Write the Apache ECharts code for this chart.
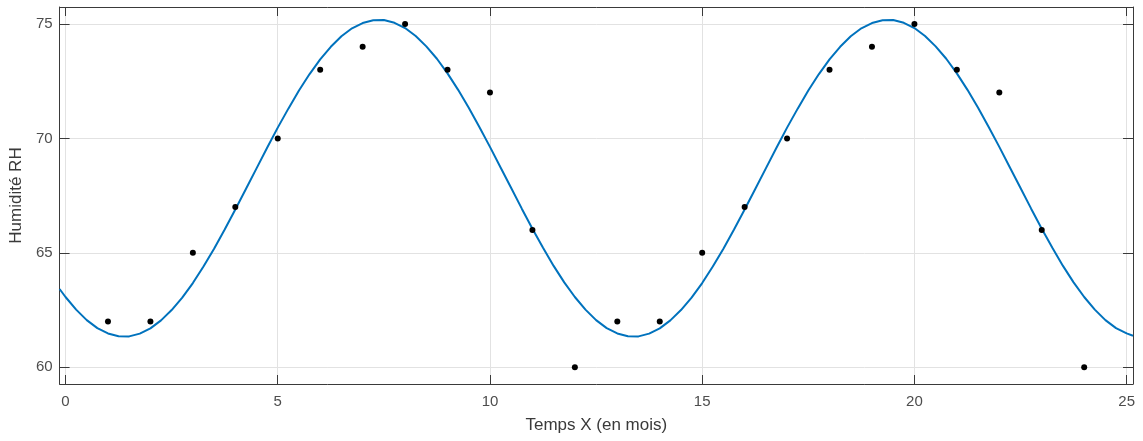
<!DOCTYPE html>
<html>
<head>
<meta charset="utf-8">
<script src="https://cdn.jsdelivr.net/npm/echarts@6/dist/echarts.min.js"></script>
<style>
  html, body { margin: 0; padding: 0; background: #fff; }
  #main { width: 1143px; height: 441px; }
</style>
</head>
<body>
<div id="main"></div>
<script>
// mesures (mois 1..24)
let mois = [1, 2, 3, 4, 5, 6, 7, 8, 9, 10, 11, 12, 13, 14, 15, 16, 17, 18, 19, 20, 21, 22, 23, 24];
let humidite = [62, 62, 65, 67, 70, 73, 74, 75, 73, 72, 66, 60, 62, 62, 65, 67, 70, 73, 74, 75, 73, 72, 66, 60];

let courbeX = [-0.14,
  0, 0.25, 0.5, 0.75, 1, 1.25, 1.5, 1.75, 2, 2.25, 2.5, 2.75, 3, 3.25, 3.5, 3.75,
  4, 4.25, 4.5, 4.75, 5, 5.25, 5.5, 5.75, 6, 6.25, 6.5, 6.75, 7, 7.25, 7.5, 7.75,
  8, 8.25, 8.5, 8.75, 9, 9.25, 9.5, 9.75, 10, 10.25, 10.5, 10.75, 11, 11.25, 11.5, 11.75,
  12, 12.25, 12.5, 12.75, 13, 13.25, 13.5, 13.75, 14, 14.25, 14.5, 14.75, 15, 15.25, 15.5, 15.75,
  16, 16.25, 16.5, 16.75, 17, 17.25, 17.5, 17.75, 18, 18.25, 18.5, 18.75, 19, 19.25, 19.5, 19.75,
  20, 20.25, 20.5, 20.75, 21, 21.25, 21.5, 21.75, 22, 22.25, 22.5, 22.75, 23, 23.25, 23.5, 23.75,
  24, 24.25, 24.5, 24.75, 25, 25.15];
let courbeY = [63.42,
  63.07, 62.52, 62.06, 61.71, 61.48, 61.36, 61.35, 61.47, 61.70, 62.05, 62.50, 63.04, 63.68, 64.40, 65.18, 66.02,
  66.89, 67.79, 68.69, 69.59, 70.47, 71.30, 72.09, 72.81, 73.45, 74.00, 74.46, 74.81, 75.04, 75.16, 75.17, 75.05,
  74.82, 74.47, 74.02, 73.48, 72.84, 72.12, 71.34, 70.50, 69.63, 68.73, 67.83, 66.93, 66.05, 65.22, 64.43, 63.71,
  63.07, 62.52, 62.06, 61.71, 61.48, 61.36, 61.35, 61.47, 61.70, 62.05, 62.50, 63.04, 63.68, 64.40, 65.18, 66.02,
  66.89, 67.79, 68.69, 69.59, 70.47, 71.30, 72.09, 72.81, 73.45, 74.00, 74.46, 74.81, 75.04, 75.16, 75.17, 75.05,
  74.82, 74.47, 74.02, 73.48, 72.84, 72.12, 71.34, 70.50, 69.63, 68.73, 67.83, 66.93, 66.05, 65.22, 64.43, 63.71,
  63.07, 62.52, 62.06, 61.71, 61.48, 61.38];

// graduations
let ticksX = [0, 5, 10, 15, 20, 25];
let ticksY = [60, 65, 70, 75];

let chartDom = document.getElementById('main');
let myChart = echarts.init(chartDom);

let points = mois.map((m, i) => [m, humidite[i]]);
let courbe = courbeX.map((x, i) => [x, courbeY[i]]);

let boxColor = '#3a3a3a';
let gridColor = '#e2e2e2';
let labelColor = '#4d4d4d';
let font = 'Liberation Sans, Arial, sans-serif';

let xMin = -0.14, xMax = 25.15;
let yMin = 59.27, yMax = 75.74;

function axeX(pos, labels) {
  return {
    type: 'value',
    position: pos,
    min: xMin,
    max: xMax,
    name: labels ? 'Temps X (en mois)' : '',
    nameLocation: 'middle',
    nameGap: 33,
    nameTextStyle: { color: '#3a3a3a', fontSize: 17, fontFamily: font },
    axisLine: { show: true, onZero: false, lineStyle: { color: boxColor, width: 1 } },
    axisTick: { show: true, inside: true, length: 9, customValues: ticksX, lineStyle: { color: boxColor } },
    axisLabel: { show: labels, customValues: ticksX, margin: 10, color: labelColor, fontSize: 15, fontFamily: font },
    splitLine: { show: labels, lineStyle: { color: gridColor, width: 1 } }
  };
}

function axeY(pos, labels) {
  return {
    type: 'value',
    position: pos,
    min: yMin,
    max: yMax,
    name: labels ? 'Humidité RH' : '',
    nameLocation: 'middle',
    nameGap: 33,
    nameTextStyle: { color: '#3a3a3a', fontSize: 17, fontFamily: font },
    axisLine: { show: true, onZero: false, lineStyle: { color: boxColor, width: 1 } },
    axisTick: { show: true, inside: true, length: 10, customValues: ticksY, lineStyle: { color: boxColor } },
    axisLabel: { show: labels, customValues: ticksY, margin: 7, color: labelColor, fontSize: 15, fontFamily: font },
    splitLine: { show: labels, lineStyle: { color: gridColor, width: 1 } }
  };
}

let option = {
  animation: false,
  backgroundColor: '#fff',
  grid: { left: 58, right: 10, top: 7, bottom: 57 },
  xAxis: [axeX('bottom', true), axeX('top', false)],
  yAxis: [axeY('left', true), axeY('right', false)],
  series: [
    {
      type: 'line',
      data: courbe,
      smooth: false,
      symbol: 'none',
      lineStyle: { color: '#0072BD', width: 2 },
      z: 2
    },
    {
      type: 'scatter',
      data: points,
      symbol: 'circle',
      symbolSize: 6,
      itemStyle: { color: '#000', opacity: 1 },
      z: 3
    }
  ]
};

option && myChart.setOption(option);
</script>
</body>
</html>
